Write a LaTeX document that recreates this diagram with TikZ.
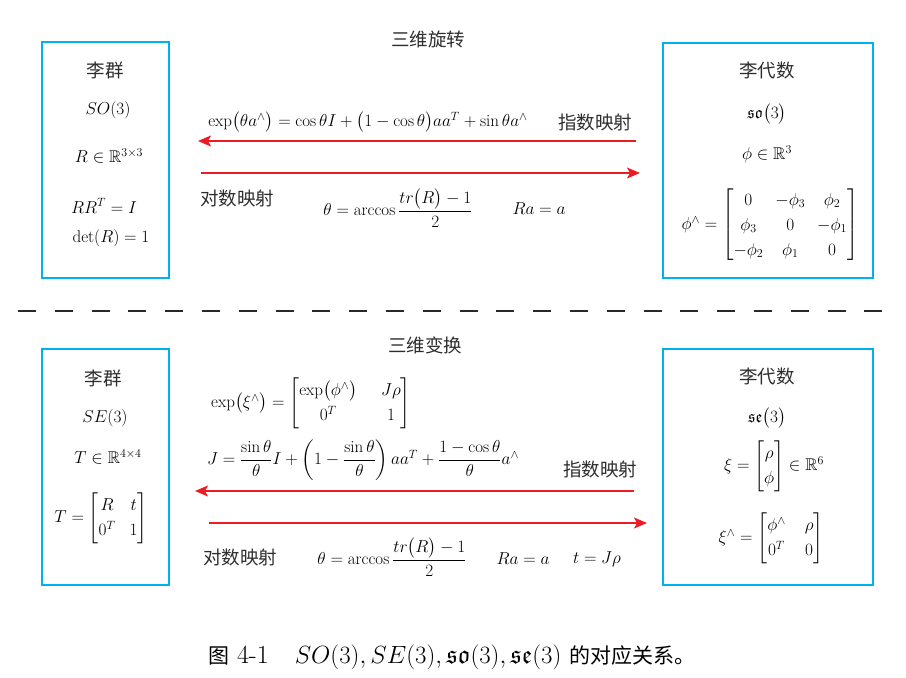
\documentclass[tikz,border=0pt]{standalone}
\usepackage{amsmath,amssymb}
\usepackage{fontspec}
\newfontfamily\cjk{Noto Sans CJK SC}
\usetikzlibrary{arrows.meta}
\definecolor{boxblue}{RGB}{0,176,240}
\definecolor{arrred}{RGB}{237,28,36}
\definecolor{dashgray}{RGB}{40,40,40}
\definecolor{zhgray}{RGB}{45,45,45}
\renewcommand{\arraystretch}{1.25}
\newcommand{\wcol}[1]{\setlength{\arraycolsep}{#1}}
\begin{document}
\begin{tikzpicture}[x=1pt,y=-1pt,
  box/.style={draw=boxblue,line width=1.6pt,inner sep=0pt},
  zh/.style={font=\cjk\fontsize{18.5}{21}\selectfont,text=zhgray,inner sep=0pt},
  mth/.style={font=\fontsize{17}{20}\selectfont,inner sep=0pt},
  captext/.style={font=\fontsize{26}{30}\selectfont,inner sep=0pt},
  maparrow/.style={draw=arrred,line width=1.3pt,-{Stealth[length=13pt,width=11pt,inset=3pt]}},
  sepline/.style={draw=dashgray,line width=2pt,dash pattern=on 18pt off 18.8pt},
]
\useasboundingbox (0,0) rectangle (906,678);
% boxes
\node[box,minimum width=127pt,minimum height=236pt] (lg1) at (105.5,160) {};
\node[box,minimum width=210pt,minimum height=235pt] (la1) at (768,160.5) {};
\node[box,minimum width=127pt,minimum height=236pt] (lg2) at (105.5,467) {};
\node[box,minimum width=210pt,minimum height=236pt] (la2) at (768,467) {};
% separator
\coordinate (dL) at (18,311);
\coordinate (dR) at (882,311);
\draw[sepline] (dL) -- (dR);
% titles
\node[zh] (t1) at (428,39) {三维旋转};
\node[zh] (t2) at (425,345) {三维变换};
% box 1
\node[zh] (g1a) at (105,70) {李群};
\node[mth] (g1b) at (108,110) {$SO(3)$};
\node[mth] (g1c) at (109,156) {$R\in\mathbb{R}^{3\times3}$};
\node[mth] (g1d) at (104,206) {$RR^T=I$};
\node[mth] (g1e) at (111,238) {$\det(R)=1$};
% box 2
\node[zh] (a1a) at (767,70) {李代数};
\node[mth] (a1b) at (767,114) {$\mathfrak{so}\bigl(3\bigr)$};
\node[mth] (a1c) at (767,154) {$\phi\in\mathbb{R}^3$};
\node[mth] (a1d) at (770,225) {$\wcol{6pt}\phi^{\wedge}=\begin{bmatrix}0&-\phi_3&\phi_2\\ \phi_3&0&-\phi_1\\ -\phi_2&\phi_1&0\end{bmatrix}$};
% top middle
\node[mth] (m1) at (368,122) {$\exp\bigl(\theta a^{\wedge}\bigr)=\cos\theta I+\bigl(1-\cos\theta\bigr)aa^T+\sin\theta a^{\wedge}$};
\node[zh] (e1) at (595,122) {指数映射};
\node[zh] (l1) at (237,198) {对数映射};
\node[mth] (m2) at (398,208) {$\theta=\arccos\dfrac{tr\bigl(R\bigr)-1}{2}$};
\node[mth] (m3) at (539,209) {$Ra=a$};
% arrows top
\coordinate (a1s) at (636,141);
\coordinate (a1e) at (198,141);
\coordinate (a2s) at (201,173);
\coordinate (a2e) at (640,173);
\draw[maparrow] (a1s) -- (a1e);
\draw[maparrow] (a2s) -- (a2e);
% box 3
\node[zh] (g2a) at (103,378) {李群};
\node[mth] (g2b) at (105,418) {$SE(3)$};
\node[mth] (g2c) at (108,457) {$T\in\mathbb{R}^{4\times4}$};
\node[mth] (g2d) at (101,518) {$\wcol{7pt}T=\begin{bmatrix}R&t\\0^T&1\end{bmatrix}$};
% box 4
\node[zh] (a2a) at (767,376) {李代数};
\node[mth] (a2b) at (767,418) {$\mathfrak{se}\bigl(3\bigr)$};
\node[mth] (a2c) at (774,466) {$\xi=\begin{bmatrix}\rho\\ \phi\end{bmatrix}\in\mathbb{R}^6$};
\node[mth] (a2d) at (771,538) {$\wcol{9.5pt}\xi^{\wedge}=\begin{bmatrix}\phi^{\wedge}&\rho\\ 0^T&0\end{bmatrix}$};
% bottom middle
\node[mth] (n1) at (311,403) {$\wcol{12pt}\exp\bigl(\xi^{\wedge}\bigr)=\begin{bmatrix}\exp\bigl(\phi^{\wedge}\bigr)&J\rho\\ 0^T&1\end{bmatrix}$};
\node[mth] (n2) at (363,460) {$J=\dfrac{\sin\theta}{\theta}I+\left(1-\dfrac{\sin\theta}{\theta}\right)aa^T+\dfrac{1-\cos\theta}{\theta}a^{\wedge}$};
\node[zh] (e2) at (600,469) {指数映射};
\node[zh] (l2) at (240,557) {对数映射};
\node[mth] (n3) at (392,557) {$\theta=\arccos\dfrac{tr\bigl(R\bigr)-1}{2}$};
\node[mth] (n4) at (523,559) {$Ra=a$};
\node[mth] (n5) at (597,559) {$t=J\rho$};
% arrows bottom
\coordinate (a3s) at (634,491);
\coordinate (a3e) at (195,491);
\coordinate (a4s) at (209,523);
\coordinate (a4e) at (647,523);
\draw[maparrow] (a3s) -- (a3e);
\draw[maparrow] (a4s) -- (a4e);
% caption
\node[captext,anchor=west] (capt) at (208,657) {{\cjk\fontsize{21}{24}\selectfont 图} 4-1\quad $SO(3),SE(3),\mathfrak{so}(3),\mathfrak{se}(3)$ {\cjk\fontsize{21}{24}\selectfont 的对应关系。}};
\end{tikzpicture}
\end{document}
